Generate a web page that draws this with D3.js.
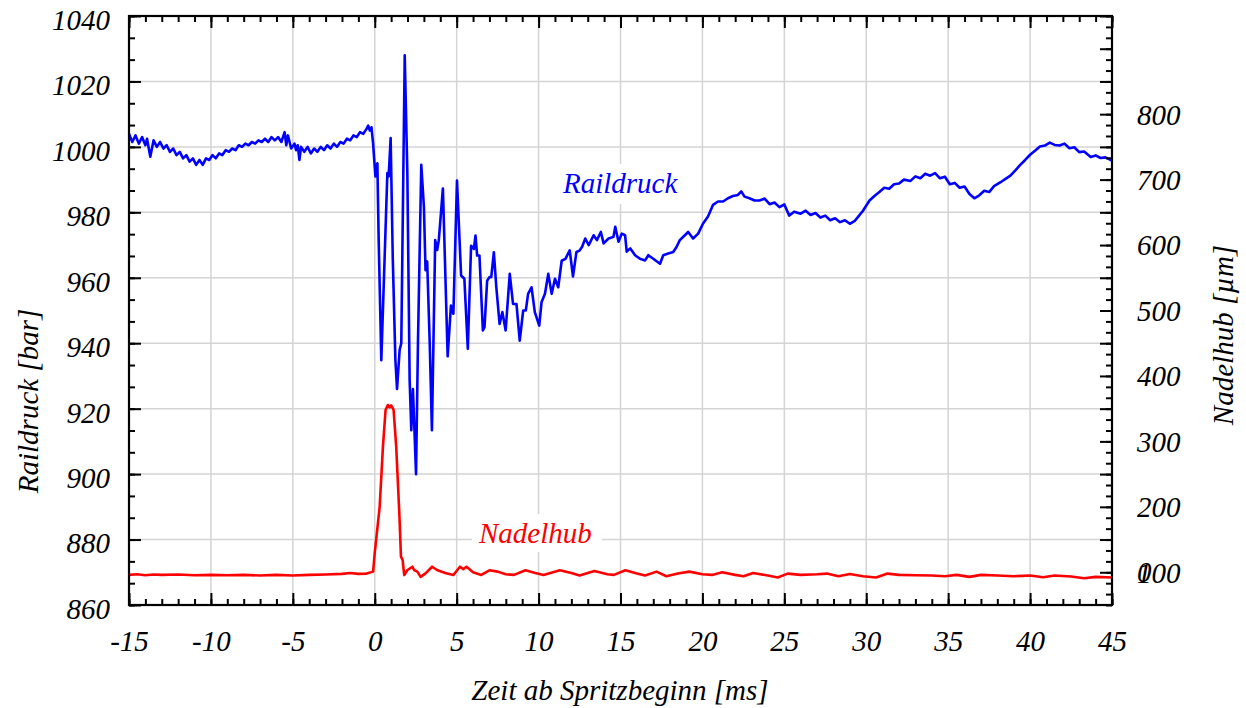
<!DOCTYPE html>
<html>
<head>
<meta charset="utf-8">
<script src="https://cdn.jsdelivr.net/npm/d3@7"></script>
<style>
  body { margin: 0; background: #fff; }
  svg text { font-family: "Liberation Serif", "Times New Roman", serif; font-style: italic; }
</style>
</head>
<body>
<svg id="chart" width="1246" height="708"></svg>
<script>
// Raildruck [bar] over Zeit ab Spritzbeginn [ms]
const raildruckZeit = [
  -15.0, -14.8, -14.6, -14.4, -14.2, -14.0, -13.9, -13.7, -13.5, -13.3, -13.1, -12.9, -12.7, -12.5, -12.3, -12.1,
  -11.9, -11.7, -11.5, -11.3, -11.1, -10.9, -10.7, -10.5, -10.3, -10.1, -9.9, -9.7, -9.5, -9.3, -9.1, -8.9,
  -8.7, -8.5, -8.3, -8.1, -7.9, -7.7, -7.5, -7.3, -7.1, -6.9, -6.7, -6.5, -6.3, -6.1, -5.9, -5.7,
  -5.5, -5.4, -5.3, -5.1, -4.9, -4.8, -4.7, -4.6, -4.5, -4.3, -4.1, -3.9, -3.7, -3.5, -3.3, -3.1,
  -2.9, -2.7, -2.5, -2.3, -2.1, -1.9, -1.7, -1.5, -1.3, -1.1, -0.9, -0.7, -0.5, -0.4, -0.3, -0.2,
  -0.1, 0.04, 0.16, 0.24, 0.4, 0.57, 0.77, 0.85, 0.97, 1.1, 1.26, 1.36, 1.52, 1.62, 1.83, 1.99,
  2.13, 2.23, 2.33, 2.43, 2.52, 2.64, 2.84, 3.0, 3.1, 3.2, 3.35, 3.49, 3.69, 3.81, 3.91, 4.16,
  4.45, 4.65, 4.8, 5.02, 5.27, 5.47, 5.68, 5.88, 6.05, 6.15, 6.25, 6.39, 6.6, 6.7, 6.86, 7.0,
  7.11, 7.27, 7.42, 7.62, 7.79, 7.99, 8.24, 8.44, 8.65, 8.85, 9.06, 9.22, 9.36, 9.57, 9.77, 10.04,
  10.18, 10.39, 10.59, 10.8, 11.0, 11.2, 11.41, 11.64, 11.9, 12.1, 12.31, 12.5, 12.65, 12.85, 13.06, 13.36,
  13.56, 13.8, 13.97, 14.27, 14.57, 14.68, 14.88, 15.08, 15.28, 15.38, 15.59, 15.89, 16.19, 16.5, 16.7, 17.0,
  17.41, 17.61, 17.91, 18.22, 18.42, 18.62, 18.93, 19.13, 19.43, 19.74, 20.04, 20.34, 20.65, 20.95, 21.26, 21.56,
  21.86, 22.17, 22.37, 22.57, 22.87, 23.18, 23.48, 23.8, 24.1, 24.4, 24.7, 25.0, 25.3, 25.6, 26.0, 26.3,
  26.6, 26.9, 27.2, 27.5, 27.8, 28.1, 28.4, 28.7, 29.0, 29.3, 29.5, 29.8, 30.2, 30.5, 30.8, 31.1,
  31.4, 31.7, 32.0, 32.3, 32.7, 33.0, 33.3, 33.6, 33.9, 34.2, 34.5, 34.8, 35.1, 35.4, 35.7, 36.0,
  36.3, 36.6, 36.9, 37.2, 37.5, 37.8, 38.2, 38.5, 38.8, 39.1, 39.4, 39.7, 40.0, 40.3, 40.6, 40.9,
  41.2, 41.5, 41.8, 42.1, 42.4, 42.7, 43.0, 43.3, 43.7, 44.0, 44.3, 44.6, 45.0
];
const raildruckWerte = [
  1004, 1001.5, 1003.5, 1001, 1003, 1000.5, 1002.5, 997, 1002, 1000, 1001.5, 999.5, 1000.5, 998.5, 999.5, 997.5,
  998.5, 996.5, 997.5, 995.5, 996.5, 994.5, 996, 994.5, 996.5, 996, 997.5, 996.5, 998, 997.5, 999, 998.5,
  999.5, 999, 1000.5, 1000, 1001, 1000.5, 1001.5, 1001, 1002, 1001.5, 1002.5, 1001.5, 1003, 1002, 1003, 1001.5,
  1004.5, 1000.5, 1003.5, 999.5, 1001, 999, 1000.5, 996, 1000, 998.5, 1000, 998, 999.5, 998.5, 1000, 999,
  1000.5, 999.5, 1001, 1000, 1001.5, 1001, 1002.5, 1002, 1003.5, 1003, 1004.5, 1004, 1005.5, 1006.5, 1005, 1006,
  1001, 991, 995, 971.5, 934.8, 961, 992, 991, 1002.7, 966, 934.8, 926, 938, 940, 1028, 992,
  928.7, 913.4, 926, 912.4, 900, 941, 994.5, 981.7, 962.3, 965, 941, 913.4, 971.5, 968.5, 971.5, 987.3,
  936, 951.5, 949, 989.7, 960.7, 959.7, 938.3, 969.8, 968.8, 972.9, 966.8, 966.8, 943.9, 944.9, 959.1, 960.2,
  960.2, 967.8, 957.1, 945.9, 949.5, 943.9, 961.2, 952, 952, 940.8, 950, 950, 955.1, 957.1, 949.5, 945.4,
  952.5, 955.1, 961.2, 955.1, 959.7, 957.1, 965.2, 965.8, 968.4, 960.4, 967.9, 968.3, 969.4, 972, 970, 973,
  971.5, 974, 970.5, 972, 972.5, 975.6, 971, 973.5, 973, 968, 969, 966.9, 965.8, 965.3, 966.9, 965.8,
  964.3, 966.9, 967.4, 967.9, 969.4, 971.5, 973, 974, 972, 973.5, 976.6, 978.7, 982.3, 983.3, 983.3, 984.3,
  985, 985.3, 986.4, 984.8, 984.3, 983.6, 983.6, 984.2, 982.5, 983, 981.6, 982.4, 979, 980.2, 979.6, 980.5,
  979.2, 979.8, 978.4, 979, 977.6, 978.2, 977, 977.6, 976.5, 977.4, 978.6, 980.5, 983.6, 985, 986.2, 987.5,
  987.2, 988.6, 988.8, 990, 989.6, 991, 990.4, 991.8, 991.2, 992, 990.4, 990.9, 988.6, 989, 987.5, 987.9,
  985.6, 984.3, 985.2, 986.6, 986.2, 988, 989.2, 990.2, 991.2, 992.8, 994.5, 996, 997.6, 998.8, 1000.1, 1000.4,
  1001.3, 1000.6, 1000.4, 1001, 999.6, 999.9, 998.4, 998.6, 996.9, 997.4, 996.6, 996.8, 995.8
];

// Nadelhub (right axis units) over Zeit ab Spritzbeginn [ms]
const nadelhubZeit = [
  -15, -14.5, -14, -13.5, -13, -12, -11, -10, -9, -8, -7, -6, -5, -4, -3, -2, -1.5, -1, -0.5, -0.1,
  0.0, 0.3, 0.5, 0.66, 0.8, 0.9, 1.0, 1.15, 1.31, 1.5, 1.6, 1.7, 1.8, 2.0, 2.3, 2.4, 2.6, 2.8, 3.1, 3.5,
  3.8, 4.3, 4.8, 5.2, 5.4, 5.6, 6.0, 6.5, 7.0, 7.5, 8.0, 8.5, 9.2, 9.8, 10.3, 11.3, 12.0, 12.5, 13.4, 14.2,
  14.6, 15.3, 16.0, 16.5, 17.2, 17.8, 18.5, 19.2, 20.0, 20.6, 21.2, 22.0, 22.5, 23.1, 24.0, 24.6, 25.2, 26.0, 27.0, 27.6,
  28.3, 29.0, 29.8, 30.6, 31.3, 32.0, 33.0, 34.0, 34.8, 35.5, 36.3, 37.0, 38.0, 39.0, 40.0, 40.8, 41.5, 42.5, 43.3, 44.0,
  45.0
];
const nadelhubWerte = [
  96, 97, 95.5, 96.5, 96, 96.5, 95.5, 96, 95.5, 96, 95, 96, 95, 96, 96.5, 97.5, 99, 97.5, 98, 101,
  129.5, 200, 292, 348, 355.6, 352, 355, 348, 292, 190, 124, 118.8, 95.8, 103.5, 108.5, 103.5, 101, 93, 98.4, 108.5,
  103.5, 99, 95.8, 108.5, 104.8, 108.5, 100, 96, 103, 101, 97, 96, 103, 99, 96, 103, 99, 95, 102, 97,
  96, 103, 98, 95, 101, 94, 98, 101, 97, 96, 100, 96, 94, 99, 95, 92, 98, 96, 97, 98,
  94, 97.5, 94, 92, 98, 96, 95.5, 95, 94, 96, 93, 96, 95, 94, 95, 92.5, 95, 93.5, 91, 93,
  92
];

const zeitTicks = d3.range(-15, 46, 5);
const zeitMinorTicks = d3.range(-15, 45.01, 1);
const druckTicks = d3.range(860, 1041, 20);
const druckMinorTicks = d3.range(860, 1040.01, 20 / 3);
const hubTicks = d3.range(100, 951, 50);
const hubLabels = d3.range(100, 801, 100);
const hubMinorTicks = d3.range(50, 950.01, 50 / 3);
const hubZusatzLabel = [{ wert: 100, text: "0" }];

const svg = d3.select("#chart");
const plotLeft = 129, plotRight = 1112, plotTop = 16, plotBottom = 605;
const fontSize = 29;

const x = d3.scaleLinear().domain([-15, 45]).range([plotLeft, plotRight]);
const yL = d3.scaleLinear().domain([860, 1040]).range([plotBottom, plotTop]);
const yR = d3.scaleLinear().domain([50, 950]).range([plotBottom, plotTop]);

// grid
svg.append("g")
    .selectAll("line")
    .data(zeitTicks)
    .enter().append("line")
    .attr("x1", d => x(d)).attr("x2", d => x(d))
    .attr("y1", plotTop).attr("y2", plotBottom)
    .attr("stroke", "#d4d4d4").attr("stroke-width", 1.5);
svg.append("g")
    .selectAll("line")
    .data(druckTicks)
    .enter().append("line")
    .attr("x1", plotLeft).attr("x2", plotRight)
    .attr("y1", d => yL(d)).attr("y2", d => yL(d))
    .attr("stroke", "#d4d4d4").attr("stroke-width", 1.5);

// white boxes behind the curve labels
svg.append("rect").attr("x", 556).attr("y", 164).attr("width", 132).attr("height", 40).attr("fill", "#fff");
svg.append("rect").attr("x", 472).attr("y", 514).attr("width", 130).attr("height", 38).attr("fill", "#fff");

// curves
const lineL = d3.line().x(d => x(d[0])).y(d => yL(d[1]));
const lineR = d3.line().x(d => x(d[0])).y(d => yR(d[1]));

svg.append("path")
    .datum(d3.zip(raildruckZeit, raildruckWerte))
    .attr("d", lineL)
    .attr("fill", "none")
    .attr("stroke", "#0000ff")
    .attr("stroke-width", 2.6)
    .attr("stroke-linejoin", "round");

svg.append("path")
    .datum(d3.zip(nadelhubZeit, nadelhubWerte))
    .attr("d", lineR)
    .attr("fill", "none")
    .attr("stroke", "#ff0000")
    .attr("stroke-width", 2.6)
    .attr("stroke-linejoin", "round");

// curve labels
svg.append("text")
    .attr("x", 563).attr("y", 193)
    .attr("font-size", fontSize)
    .attr("font-style", "italic")
    .attr("fill", "#0000ff")
    .text("Raildruck");
svg.append("text")
    .attr("x", 479).attr("y", 543)
    .attr("font-size", fontSize)
    .attr("font-style", "italic")
    .attr("fill", "#ff0000")
    .text("Nadelhub");

// axes
function styleAxis(g) {
    g.select(".domain").remove();
    g.attr("font-family", "Liberation Serif, Times New Roman, serif").attr("font-size", fontSize);
    g.selectAll(".tick line").attr("stroke", "#000").attr("stroke-width", 2);
    g.selectAll("text").attr("fill", "#000").attr("font-style", "italic");
}
const plainFormat = d => String(d);

svg.append("g")
    .attr("transform", `translate(0,${plotBottom})`)
    .call(d3.axisBottom(x).tickValues(zeitMinorTicks).tickSize(-6).tickFormat(""))
    .call(styleAxis);
svg.append("g")
    .attr("transform", `translate(0,${plotBottom})`)
    .call(d3.axisBottom(x).tickValues(zeitTicks).tickSize(-12).tickPadding(25).tickFormat(plainFormat))
    .call(styleAxis);
svg.append("g")
    .attr("transform", `translate(0,${plotTop})`)
    .call(d3.axisTop(x).tickValues(zeitMinorTicks).tickSize(-6).tickFormat(""))
    .call(styleAxis);
svg.append("g")
    .attr("transform", `translate(0,${plotTop})`)
    .call(d3.axisTop(x).tickValues(zeitTicks).tickSize(-12).tickFormat(""))
    .call(styleAxis);

svg.append("g")
    .attr("transform", `translate(${plotLeft},0)`)
    .call(d3.axisLeft(yL).tickValues(druckMinorTicks).tickSize(-6).tickFormat(""))
    .call(styleAxis);
svg.append("g")
    .attr("transform", `translate(${plotLeft},0)`)
    .call(d3.axisLeft(yL).tickValues(druckTicks).tickSize(-12).tickPadding(19).tickFormat(plainFormat))
    .call(styleAxis)
    .selectAll("text").attr("dy", "0.46em");

svg.append("g")
    .attr("transform", `translate(${plotRight},0)`)
    .call(d3.axisRight(yR).tickValues(hubMinorTicks).tickSize(-6).tickFormat(""))
    .call(styleAxis);
const rAxis = svg.append("g")
    .attr("transform", `translate(${plotRight},0)`)
    .call(d3.axisRight(yR).tickValues(hubTicks).tickSize(-12).tickPadding(25)
        .tickFormat(d => hubLabels.includes(d) ? String(d) : ""))
    .call(styleAxis);
rAxis.selectAll("text").attr("dy", "0.34em");
rAxis.selectAll(".zusatz")
    .data(hubZusatzLabel)
    .enter().append("text")
    .attr("class", "zusatz")
    .attr("x", 25).attr("y", d => yR(d.wert)).attr("dy", "0.34em")
    .attr("fill", "#000").attr("font-style", "italic")
    .text(d => d.text);

// frame
svg.append("rect")
    .attr("x", plotLeft).attr("y", plotTop)
    .attr("width", plotRight - plotLeft).attr("height", plotBottom - plotTop)
    .attr("fill", "none").attr("stroke", "#000").attr("stroke-width", 2.2);

// axis titles
svg.append("text")
    .attr("x", 620).attr("y", 700)
    .attr("text-anchor", "middle")
    .attr("font-size", fontSize)
    .attr("font-style", "italic")
    .text("Zeit ab Spritzbeginn [ms]");
svg.append("text")
    .attr("transform", "translate(38,401) rotate(-90)")
    .attr("text-anchor", "middle")
    .attr("font-size", fontSize)
    .attr("font-style", "italic")
    .text("Raildruck [bar]");
svg.append("text")
    .attr("transform", "translate(1233,335) rotate(-90)")
    .attr("text-anchor", "middle")
    .attr("font-size", fontSize)
    .attr("font-style", "italic")
    .text("Nadelhub [µm]");
</script>
</body>
</html>
